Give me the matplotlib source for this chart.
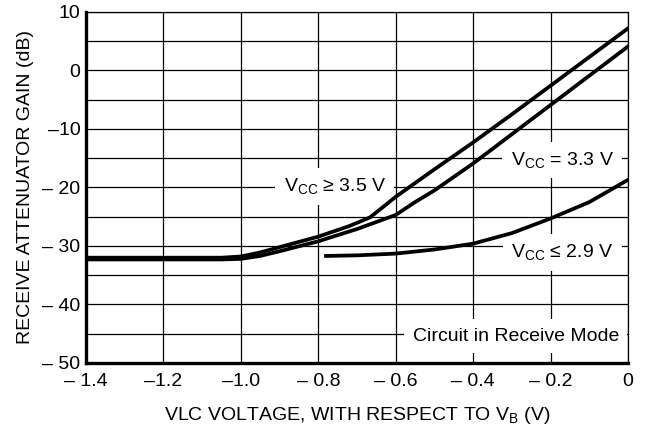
import numpy as np
import matplotlib
matplotlib.use("Agg")
import matplotlib.pyplot as plt

plt.rcParams['font.family'] = ['Liberation Sans', 'DejaVu Sans']
plt.rcParams['mathtext.fontset'] = 'custom'
plt.rcParams['mathtext.rm'] = 'Liberation Sans'
plt.rcParams['mathtext.it'] = 'Liberation Sans'

# VCC >= 3.5 V
v_35 = [-1.4, -1.2, -1.05, -1.0, -0.95, -0.9, -0.8, -0.72, -0.666, -0.6, -0.5, -0.4, -0.3, -0.2, -0.1, 0.0]
g_35 = [-32.0, -32.0, -32.0, -31.8, -31.1, -30.2, -28.4, -26.6, -25.1, -21.6, -16.9, -12.3, -7.5, -2.6, 2.3, 7.2]

# VCC = 3.3 V
v_33 = [-1.4, -1.2, -1.05, -1.0, -0.95, -0.9, -0.8, -0.7, -0.6, -0.55, -0.5, -0.4, -0.3, -0.2, -0.1, 0.0]
g_33 = [-32.3, -32.3, -32.3, -32.2, -31.7, -30.9, -29.2, -27.1, -24.7, -22.5, -20.5, -15.9, -10.9, -5.9, -0.9, 4.1]

# VCC <= 2.9 V
v_29 = [-0.78, -0.7, -0.6, -0.5, -0.4, -0.3, -0.2, -0.1, 0.0]
g_29 = [-31.7, -31.6, -31.3, -30.6, -29.6, -27.8, -25.3, -22.5, -18.7]

x_ticks = [-1.4, -1.2, -1.0, -0.8, -0.6, -0.4, -0.2, 0.0]
x_labels = ['– 1.4', '–1.2', '–1.0', '– 0.8', '– 0.6', '– 0.4', '– 0.2', '0']
y_ticks = [-50, -40, -30, -20, -10, 0, 10]
y_labels = ['– 50', '– 40', '– 30', '– 20', '–10', '0', '10']

fig = plt.figure(figsize=(6.45, 4.34), dpi=100)
ax = fig.add_axes([0.1333, 0.1636, 0.8403, 0.8088])

ax.plot(v_35, g_35, color='black', lw=2.7, zorder=4)
ax.plot(v_33, g_33, color='black', lw=2.7, zorder=4)
ax.plot(v_29, g_29, color='black', lw=2.7, zorder=4)

ax.set_xlim(-1.4, 0)
ax.set_ylim(-50, 10)
ax.set_xticks(x_ticks)
ax.set_xticklabels(x_labels)
ax.set_yticks(y_ticks)
ax.set_yticklabels(y_labels)
ax.set_yticks(np.arange(-45, 10, 10), minor=True)
ax.tick_params(which='both', length=0, labelsize=14)
ax.tick_params(axis='x', pad=7)
ax.tick_params(axis='y', pad=4)
ax.grid(True, which='both', color='black', lw=0.9)
ax.set_axisbelow(True)

for s in ['left', 'bottom']:
    ax.spines[s].set_linewidth(2.4)
for s in ['top', 'right']:
    ax.spines[s].set_linewidth(0.9)

box = dict(facecolor='white', edgecolor='none', pad=6)
fs = 14
ax.text(-0.757, -19.8, 'V$_\\mathregular{CC}$ ≥ 3.5 V', fontsize=fs, ha='center', va='center', bbox=box, zorder=3)
ax.text(-0.17, -15.3, 'V$_\\mathregular{CC}$ = 3.3 V', fontsize=fs, ha='center', va='center', bbox=box, zorder=3)
ax.text(-0.17, -31.1, 'V$_\\mathregular{CC}$ ≤ 2.9 V', fontsize=fs, ha='center', va='center', bbox=box, zorder=3)
ax.text(-0.29, -45.4, 'Circuit in Receive Mode', fontsize=fs, ha='center', va='center', bbox=box, zorder=3)

ax.set_xlabel('VLC VOLTAGE, WITH RESPECT TO V$_\\mathregular{B}$ (V)', fontsize=14, labelpad=11)
ax.set_ylabel('RECEIVE ATTENUATOR GAIN (dB)', fontsize=14, labelpad=6)

fig.savefig('out.png', dpi=100)
